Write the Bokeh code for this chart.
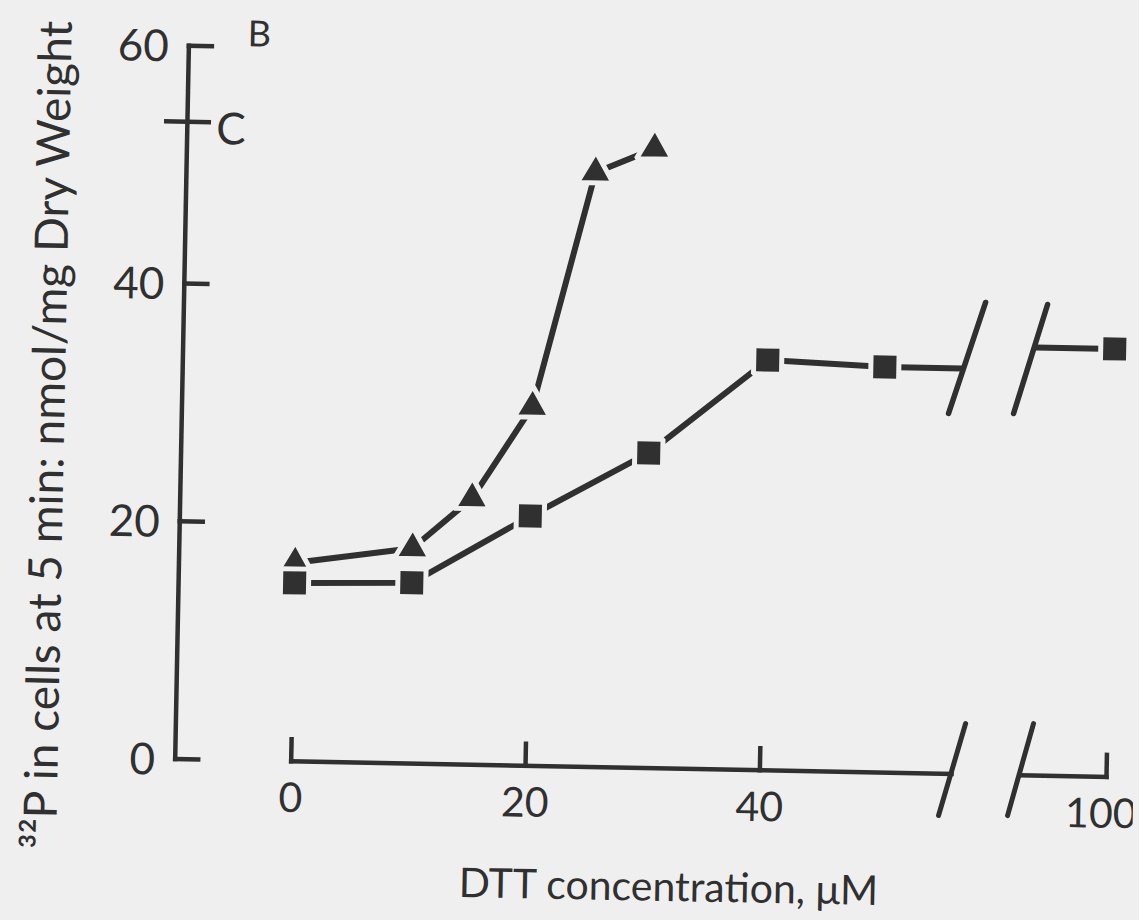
from bokeh.plotting import figure
from bokeh.models import Range1d, InlineStyleSheet
from bokeh.core.properties import value
from bokeh.embed import file_html
from bokeh.resources import INLINE

# 32P taken up by cells in 5 min versus DTT concentration (uM)
dtt_tri = [0, 10, 15, 20, 25, 30]
p32_tri = [16.7, 18.1, 22.4, 30.2, 50.0, 52.1]
dtt_sq = [0, 10, 20, 30, 40, 50, 100]
p32_sq = [15.0, 15.2, 21.0, 26.5, 34.5, 34.1, 36.0]

x_ticks = [0, 20, 40, 100]
y_ticks = [0, 20, 40, 60]
c_level = 53.6        # reference level marked "C" on the y axis

BG = "#efefef"
INK = "#303030"
FONT = value("Lato")

# Broken x axis: everything past the break is pulled left by SHIFT
BREAK_AT = 55
SHIFT = 30.42


def bx(x):
    return x - SHIFT if x > BREAK_AT else x


PX_X = 11.72   # pixels per uM
PX_Y = 11.89   # pixels per nmol/mg
X0_PX, Y0_PX = 296.5, 766
W, H = 1139, 920


def gx(px):
    """canvas pixel column -> x coordinate"""
    return (px - X0_PX) / PX_X


def gy(py):
    """canvas pixel row -> y coordinate"""
    return (Y0_PX - py) / PX_Y


# the mounted figure sits about 1.1 degrees off square on the page
tilt_css = InlineStyleSheet(css=f"""
:host {{ overflow: hidden; background-color: {BG}; }}
.bk-Canvas {{ transform: rotate(1.1deg); transform-origin: 50% 50%; }}
""")

p = figure(width=W, height=H,
           x_range=Range1d(gx(0), gx(W)), y_range=Range1d(gy(H), gy(0)),
           x_axis_type=None, y_axis_type=None,
           toolbar_location=None, output_backend="svg",
           min_border=0, outline_line_color=None,
           background_fill_color=BG, border_fill_color=BG,
           stylesheets=[tilt_css])

# ---- y axis (free-standing, left of the data) ----
YAX = gx(180.5)
TICK = 23 / PX_X
p.segment(x0=[YAX], y0=[y_ticks[0]], x1=[YAX], y1=[y_ticks[-1]],
          line_color=INK, line_width=4.5, line_cap="square")
p.segment(x0=[YAX] * len(y_ticks), y0=y_ticks,
          x1=[YAX + TICK] * len(y_ticks), y1=y_ticks,
          line_color=INK, line_width=4.5, line_cap="square")
p.segment(x0=[YAX - 23.4 / PX_X], y0=[c_level], x1=[YAX + 23.6 / PX_X], y1=[c_level],
          line_color=INK, line_width=4.5)
p.text(x=[YAX - 20 / PX_X] * len(y_ticks), y=y_ticks, text=[str(t) for t in y_ticks],
       text_align="right", text_baseline="middle", text_font=FONT,
       text_font_size="44px", text_color=INK)
p.text(x=[YAX + 29 / PX_X], y=[c_level - 0.4], text=["C"], text_align="left",
       text_baseline="middle", text_font=FONT, text_font_size="44px",
       text_color=INK)
p.text(x=[gx(239)], y=[gy(38)], text=["B"], text_align="left",
       text_baseline="middle", text_font=FONT, text_font_size="36px",
       text_color=INK)

# ---- x axis with a break before 100 ----
p.segment(x0=[x_ticks[0], gx(1026)], y0=[0, 0], x1=[gx(957), bx(x_ticks[-1])], y1=[0, 0],
          line_color=INK, line_width=4.5, line_cap="square")
xt = [bx(t) for t in x_ticks]
p.segment(x0=xt, y0=[0] * len(xt), x1=xt, y1=[22 / PX_Y] * len(xt),
          line_color=INK, line_width=4.5, line_cap="square")
p.segment(x0=[gx(944.8), gx(1013.8)], y0=[gy(807.9), gy(806.6)],
          x1=[gx(970.1), gx(1038)], y1=[gy(715.4), gy(714.1)],
          line_color=INK, line_width=5, line_cap="round")
p.text(x=xt, y=[-3.06] * len(xt), text=[str(t) for t in x_ticks],
       x_offset=[0, 0, 0, -5],
       text_align="center", text_baseline="middle", text_font=FONT,
       text_font_size="41px", text_color=INK)

# ---- axis titles ----
p.text(x=[gx(682)], y=[gy(883)], text=["DTT concentration,  \u03bcM"],
       text_align="center", text_baseline="alphabetic", text_font=FONT,
       text_font_size="41px", text_color=INK)
p.text(x=[gx(45.5)], y=[gy(443)], text=["\u00b3\u00b2P in cells at 5 min: nmol/mg Dry Weight"],
       angle=1.5708, text_align="center", text_baseline="alphabetic",
       text_font=FONT, text_font_size="46px", text_color=INK)

# ---- data: triangles ----
p.line(dtt_tri, p32_tri, line_color=INK, line_width=6)

# ---- data: squares, with the last point beyond the break ----
sq_x = [bx(v) for v in dtt_sq]
p.line(sq_x[:-1], p32_sq[:-1], line_color=INK, line_width=6)
p.segment(x0=[sq_x[-2], gx(1032.9)], y0=[p32_sq[-2], p32_sq[-1]],
          x1=[gx(960.2), sq_x[-1]], y1=[p32_sq[-2], p32_sq[-1]],
          line_color=INK, line_width=6)
p.segment(x0=[gx(947.1), gx(1012.1)], y0=[gy(405.7), gy(404.5)],
          x1=[gx(982), gx(1044)], y1=[gy(294), gy(294.8)],
          line_color=INK, line_width=5.5, line_cap="round")

p.scatter(dtt_tri, p32_tri, marker="triangle", size=36,
          fill_color=INK, line_color=BG, line_width=5)
p.scatter(sq_x, p32_sq, marker="square", size=28,
          fill_color=INK, line_color=BG, line_width=5)

open("out.html", "w").write(file_html(p, INLINE))
